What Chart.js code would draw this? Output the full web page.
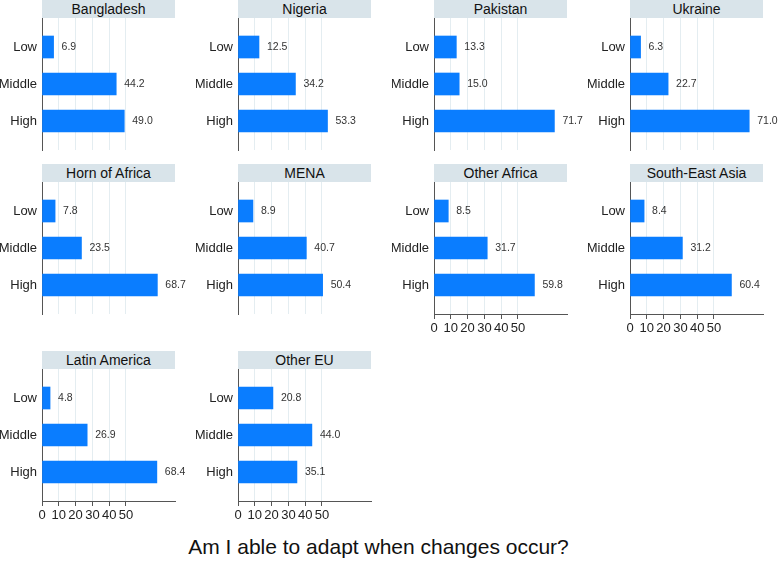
<!DOCTYPE html>
<html>
<head>
<meta charset="utf-8">
<script src="https://cdn.jsdelivr.net/npm/chart.js@4/dist/chart.umd.min.js"></script>
<style>
  html, body { margin: 0; padding: 0; background: #fff; overflow: hidden; }
  body { width: 778px; height: 561px; position: relative; font-family: "Liberation Sans", Arial, sans-serif; }
  .strip { position: absolute; width: 133px; height: 18px; background: #d9e4ea; color: #111;
           font-size: 14px; line-height: 18px; text-align: center; white-space: nowrap; }
  .cell { position: absolute; width: 196px; height: 162px; }
  #main-title { position: absolute; left: 0; width: 757px; top: 535px; text-align: center;
                font-size: 21px; color: #111; }
</style>
</head>
<body>
<div id="main-title">Am I able to adapt when changes occur?</div>
<script>
  const regions = ['Bangladesh', 'Nigeria', 'Pakistan', 'Ukraine', 'Horn of Africa', 'MENA',
                   'Other Africa', 'South-East Asia', 'Latin America', 'Other EU'];
  const levels = ['Low', 'Middle', 'High'];
  const lowVals = [6.9, 12.5, 13.3, 6.3, 7.8, 8.9, 8.5, 8.4, 4.8, 20.8];
  const middleVals = [44.2, 34.2, 15.0, 22.7, 23.5, 40.7, 31.7, 31.2, 26.9, 44.0];
  const highVals = [49.0, 53.3, 71.7, 71.0, 68.7, 50.4, 59.8, 60.4, 68.4, 35.1];
  const xTicks = [0, 10, 20, 30, 40, 50];
  // panels that carry the x axis labels
  const withAxis = ['Other Africa', 'South-East Asia', 'Latin America', 'Other EU'];

  const colX = [42, 238, 434, 630];
  const rowY = [0, 164, 351];
  const barColor = '#0a7dff';

  const valueLabels = {
    id: 'valueLabels',
    afterDatasetsDraw(chart) {
      const c = chart.ctx;
      const meta = chart.getDatasetMeta(0);
      c.save();
      c.font = '10.5px "Liberation Sans", Arial, sans-serif';
      c.fillStyle = '#333';
      c.textBaseline = 'middle';
      meta.data.forEach((bar, i) => {
        const v = chart.data.datasets[0].data[i].x;
        c.fillText(v.toFixed(1), bar.x + 8, bar.y);
      });
      c.restore();
    }
  };

  regions.forEach((name, k) => {
    const col = k % 4, row = Math.floor(k / 4);
    const left = colX[col], top = rowY[row];
    const axisOn = withAxis.includes(name);

    const strip = document.createElement('div');
    strip.className = 'strip';
    strip.style.left = left + 'px';
    strip.style.top = top + 'px';
    strip.textContent = name;
    document.body.appendChild(strip);

    const cell = document.createElement('div');
    cell.className = 'cell';
    cell.style.left = (left - 42) + 'px';
    cell.style.top = (top + 18) + 'px';
    const cv = document.createElement('canvas');
    cell.appendChild(cv);
    document.body.appendChild(cell);

    const vals = [lowVals[k], middleVals[k], highVals[k]];

    new Chart(cv, {
      type: 'bar',
      data: {
        datasets: [{
          data: levels.map((l, i) => ({ x: vals[i], y: i })),
          backgroundColor: barColor,
          borderWidth: 0,
          barThickness: 22
        }]
      },
      options: {
        indexAxis: 'y',
        animation: false,
        responsive: true,
        maintainAspectRatio: false,
        layout: { autoPadding: false, padding: { left: 0, right: 21, top: 0, bottom: 0 } },
        plugins: { legend: { display: false }, tooltip: { enabled: false } },
        scales: {
          x: {
            type: 'linear',
            min: 0,
            max: 79.2,
            afterBuildTicks: s => { s.ticks = xTicks.map(v => ({ value: v })); },
            afterFit: s => { s.height = 30; },
            border: { display: axisOn, color: '#555', width: 1 },
            grid: {
              color: c => (c.tick && c.tick.value === 0) ? 'rgba(0,0,0,0)' : '#e4edf1',
              tickColor: '#555',
              drawTicks: axisOn,
              tickLength: 5
            },
            ticks: {
              display: axisOn,
              padding: 2,
              color: '#222',
              font: { size: 13, family: '"Liberation Sans", Arial, sans-serif' }
            }
          },
          y: {
            type: 'linear',
            reverse: true,
            offset: false,
            min: -0.784,
            max: 2.784,
            afterBuildTicks: s => { s.ticks = levels.map((l, i) => ({ value: i })); },
            afterFit: s => { s.width = 42; s.paddingTop = 0; s.paddingBottom = 0; },
            border: { display: true, color: '#555', width: 1 },
            grid: { display: false, drawTicks: false },
            ticks: {
              padding: 5,
              color: '#222',
              font: { size: 13, family: '"Liberation Sans", Arial, sans-serif' },
              callback: v => levels[v]
            }
          }
        }
      },
      plugins: [valueLabels]
    });
  });
</script>
</body>
</html>
